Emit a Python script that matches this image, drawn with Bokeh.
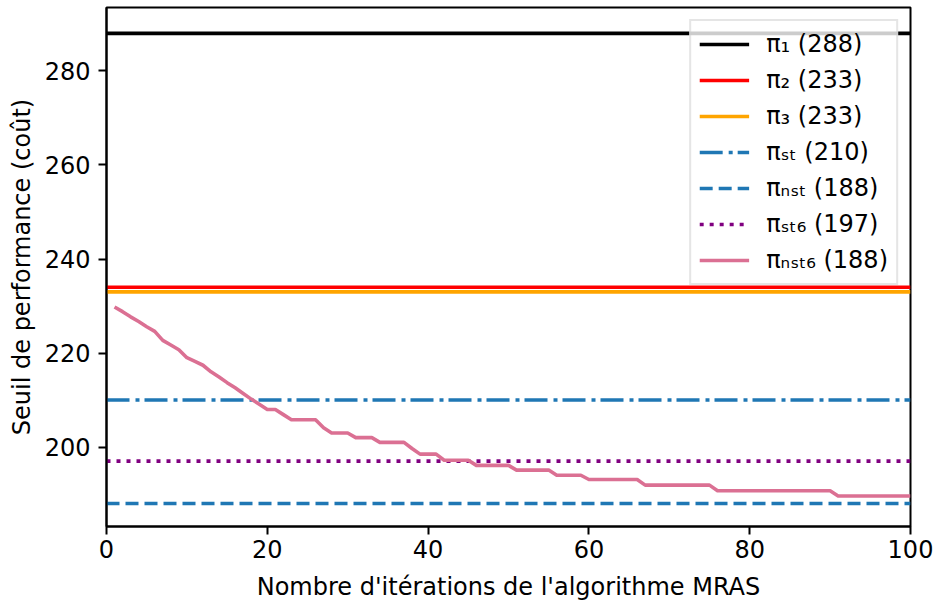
from bokeh.plotting import figure
from bokeh.models import Range1d, FixedTicker, Legend, LegendItem
from bokeh.embed import file_html
from bokeh.resources import INLINE

# ---------------- data ----------------
iterations = list(range(1, 101))
nst6_values = [
    229.8, 228.8, 227.7, 226.7, 225.6, 224.6, 222.7, 221.7, 220.7, 219.0,
    218.2, 217.4, 216.0, 214.9, 213.7, 212.6, 211.4, 210.2, 209.1, 208.0,
    208.0, 206.9, 205.8, 205.8, 205.8, 205.8, 204.1, 203.0, 203.0, 203.0,
    202.0, 202.0, 202.0, 201.0, 201.0, 201.0, 201.0, 199.7, 198.5, 198.5,
    198.5, 197.2, 197.2, 197.2, 197.2, 196.1, 196.1, 196.1, 196.1, 196.1,
    195.1, 195.1, 195.1, 195.1, 195.1, 194.0, 194.0, 194.0, 194.0, 193.1,
    193.1, 193.1, 193.1, 193.1, 193.1, 193.1, 191.9, 191.9, 191.9, 191.9,
    191.9, 191.9, 191.9, 191.9, 191.9, 190.7, 190.7, 190.7, 190.7, 190.7,
    190.7, 190.7, 190.7, 190.7, 190.7, 190.7, 190.7, 190.7, 190.7, 190.7,
    189.6, 189.6, 189.6, 189.6, 189.6, 189.6, 189.6, 189.6, 189.6, 189.6,
]
policy_labels = ["π₁ (288)", "π₂ (233)", "π₃ (233)", "πₛₜ (210)", "πₙₛₜ (188)", "πₛₜ₆ (197)"]
policy_values = [288, 234, 233, 210, 188, 197]
nst6_label = "πₙₛₜ₆ (188)"
x_limits = [0, 100]
y_limits = [183.1, 293.5]
x_ticks = [0, 20, 40, 60, 80, 100]
y_ticks = [200, 220, 240, 260, 280]

# ---------------- styles ----------------
policy_styles = [
    dict(color="#000000", dash="solid"),
    dict(color="#ff0000", dash="solid"),
    dict(color="#ffa500", dash="solid"),
    dict(color="#1f77b4", dash="23 6 4 5"),
    dict(color="#1f77b4", dash="13 6"),
    dict(color="#800080", dash="4 6"),
]
nst6_color = "#db7093"
LW = 3.6
FONT = "DejaVu Sans"
FS = "24px"

p = figure(
    width=933, height=603,
    output_backend="svg", toolbar_location=None,
    x_range=Range1d(x_limits[0], x_limits[1]),
    y_range=Range1d(y_limits[0], y_limits[1]),
    min_border_left=106, min_border_right=23, min_border_top=7, min_border_bottom=73,
    background_fill_color="white", border_fill_color="white",
)

items = []
for lab, val, st in zip(policy_labels, policy_values, policy_styles):
    r = p.line(x=x_limits, y=[val, val], line_color=st["color"], line_width=LW,
               line_dash=st["dash"], line_cap="butt")
    items.append(LegendItem(label=lab, renderers=[r]))

r = p.line(x=iterations, y=nst6_values, line_color=nst6_color, line_width=LW,
           line_join="round")
items.append(LegendItem(label=nst6_label, renderers=[r]))

legend = Legend(
    items=items, location="top_right",
    label_text_font=FONT, label_text_font_size=FS, label_text_color="black",
    label_height=30, glyph_height=30, glyph_width=50, label_standoff=17,
    spacing=6, padding=8, margin=12,
    border_line_color="#cccccc", border_line_width=2,
    background_fill_color="white", background_fill_alpha=0.8,
)
p.add_layout(legend)

p.xgrid.visible = False
p.ygrid.visible = False
p.outline_line_color = "black"
p.outline_line_width = 2
p.outline_line_alpha = 1

p.xaxis.ticker = FixedTicker(ticks=x_ticks, minor_ticks=[])
p.yaxis.ticker = FixedTicker(ticks=y_ticks, minor_ticks=[])

for ax in (p.xaxis[0], p.yaxis[0]):
    ax.axis_line_color = "black"
    ax.axis_line_width = 2
    ax.major_tick_line_color = "black"
    ax.major_tick_line_width = 2
    ax.major_tick_in = 0
    ax.major_tick_out = 8
    ax.minor_tick_line_color = None
    ax.major_label_text_font = FONT
    ax.major_label_text_font_size = FS
    ax.major_label_text_color = "black"
    ax.axis_label_text_font = FONT
    ax.axis_label_text_font_size = FS
    ax.axis_label_text_font_style = "normal"
    ax.axis_label_text_color = "black"

p.xaxis.axis_label = "Nombre d'itérations de l'algorithme MRAS"
p.yaxis.axis_label = "Seuil de performance (coût)"
p.xaxis.major_label_standoff = 5
p.xaxis.axis_label_standoff = 12
p.yaxis.major_label_standoff = 8
p.yaxis.axis_label_standoff = 6

open("out.html", "w").write(file_html(p, INLINE))
